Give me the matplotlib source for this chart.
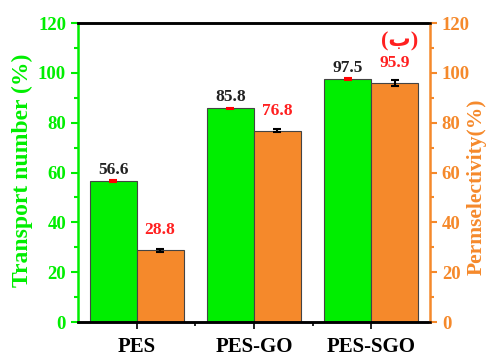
import matplotlib
matplotlib.use("Agg")
import matplotlib.pyplot as plt
import numpy as np
from matplotlib.ticker import MultipleLocator

samples = ["PES", "PES-GO", "PES-SGO"]
transport = [56.6, 85.8, 97.5]
transport_err = [0.3, 0.3, 0.4]
permsel = [28.8, 76.8, 95.9]
permsel_err = [0.5, 0.6, 1.2]

green = "#00ee00"
orange = "#f5892b"
plt.rcParams['font.family'] = ['Liberation Serif', 'DejaVu Sans']
plt.rcParams['font.weight'] = 'bold'

fig = plt.figure(figsize=(4.87, 3.56), dpi=100)
ax = fig.add_axes([0.160, 0.0955, 0.723, 0.8395])
ax2 = ax.twinx()

x = np.arange(1, len(samples) + 1)
w = 0.4
ax.bar(x - w/2, transport, w, color=green, edgecolor="#444444", linewidth=0.8,
       yerr=transport_err, ecolor="red", capsize=3, error_kw=dict(elinewidth=1.5, capthick=1.5), zorder=2)
ax.bar(x + w/2, permsel, w, color=orange, edgecolor="#444444", linewidth=0.8,
       yerr=permsel_err, ecolor="black", capsize=3, error_kw=dict(elinewidth=1.5, capthick=1.5), zorder=2)

for xi, v in zip(x, transport):
    ax.text(xi - w/2, v + 1.2, f"{v}", ha="center", va="bottom", fontsize=12.5,
            fontweight="bold", color="#222222")
for xi, v in zip(x, permsel):
    ax.text(xi + w/2, v + 4.8, f"{v}", ha="center", va="bottom", fontsize=12.5,
            fontweight="bold", color="#ff2020")

ax.set_xlim(0.5, 3.5)
ax.set_ylim(0, 120)
ax2.set_ylim(0, 120)
ax.set_xticks(x)
ax.set_xticklabels(samples, fontsize=15, fontweight="bold")
ax.set_xticks([1.5, 2.5], minor=True)
ax.tick_params(axis="x", which="major", direction="out", length=5, width=1.2, pad=6)
ax.tick_params(axis="x", which="minor", direction="out", length=3, width=1.2)

for a, c in ((ax, green), (ax2, orange)):
    a.yaxis.set_major_locator(MultipleLocator(20))
    a.yaxis.set_minor_locator(MultipleLocator(10))
    a.tick_params(axis="y", which="major", colors=c, labelsize=13.5, length=5, width=1.5, direction="out")
    a.tick_params(axis="y", which="minor", colors=c, length=3, width=1.5, direction="out")

ax.set_ylabel("Transport number (%)", color=green, fontsize=17, fontweight="bold")
ax.yaxis.set_label_coords(-0.128, 0.507)
ax2.set_ylabel("Permselectivity(%)", color=orange, fontsize=15.5, fontweight="bold")
ax2.yaxis.set_label_coords(1.105, 0.453)

ax.spines["left"].set_color(green)
ax.spines["left"].set_linewidth(1.8)
ax2.spines["left"].set_visible(False)
ax2.spines["right"].set_color(orange)
ax2.spines["right"].set_linewidth(1.8)
ax.spines["right"].set_visible(False)
for a in (ax, ax2):
    a.spines["top"].set_linewidth(1.8)
    a.spines["bottom"].set_linewidth(1.8)

ax.text(3.4, 112.5, "(ب)", ha="right", va="center", fontsize=16, fontweight="bold", color="#ff2020")

fig.savefig("out.png", dpi=100)
